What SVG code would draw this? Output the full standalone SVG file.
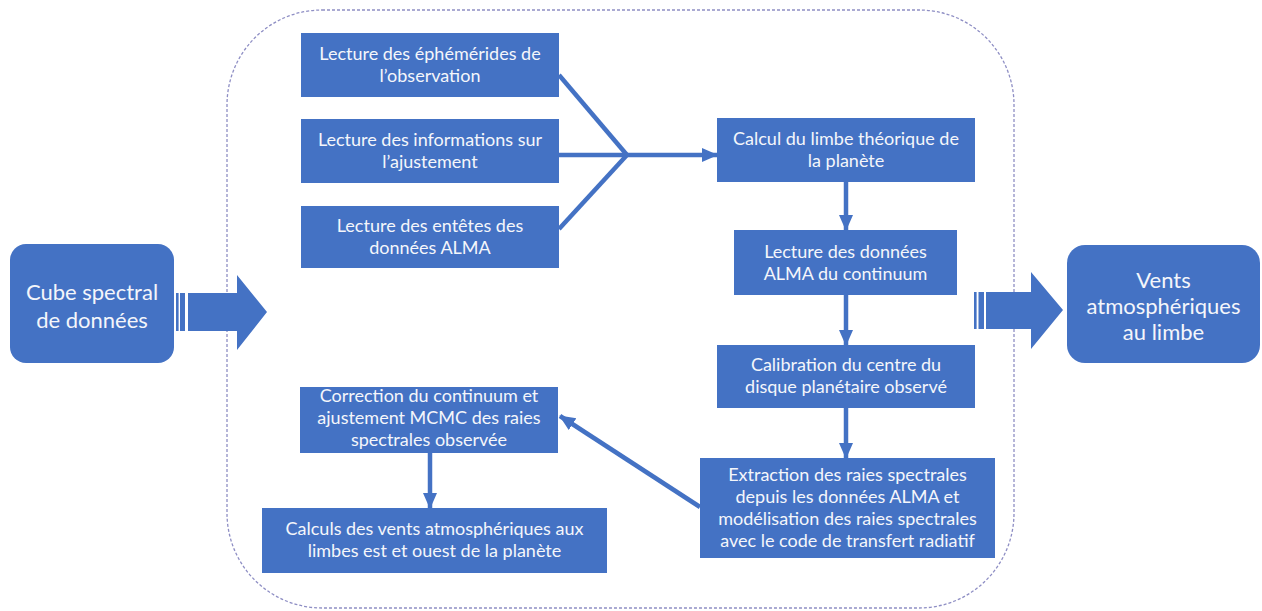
<svg xmlns="http://www.w3.org/2000/svg" width="1262" height="611" viewBox="0 0 1262 611">
<style>
.box{fill:#4472C4;}
.t{font-family:Lato,"Liberation Sans",sans-serif;font-size:18px;fill:#F4F6FB;text-anchor:middle;}
.big{font-family:Lato,"Liberation Sans",sans-serif;font-size:22px;fill:#F4F6FB;text-anchor:middle;}
.ln{stroke:#4472C4;stroke-width:4.5;fill:none;}
.arr{stroke:#4472C4;stroke-width:4.5;fill:none;marker-end:url(#ah);}
.blk{fill:#4472C4;}
</style>
<defs>
<marker id="ah" markerUnits="userSpaceOnUse" markerWidth="16" markerHeight="16" viewBox="0 0 16 16" refX="15" refY="8" orient="auto">
<path d="M0,1 L16,8 L0,15 z" fill="#4472C4"/>
</marker>
</defs>
<rect x="0" y="0" width="1262" height="611" fill="#FFFFFF"/>
<rect id="container" x="227" y="10" width="787" height="598" rx="95" ry="95" fill="none" stroke="#8E8EC4" stroke-width="1.3" stroke-dasharray="3 2"/>

<g id="connectors">
<line class="ln" x1="559" y1="75" x2="627" y2="155"/>
<line class="ln" x1="559" y1="155" x2="627" y2="155"/>
<line class="ln" x1="559" y1="229" x2="627" y2="155"/>
<line class="arr" x1="625" y1="155" x2="717" y2="155"/>
<line class="arr" x1="846" y1="182" x2="846" y2="230"/>
<line class="arr" x1="846" y1="295" x2="846" y2="345"/>
<line class="arr" x1="846" y1="408" x2="846" y2="458"/>
<line class="arr" x1="700" y1="507" x2="560" y2="416"/>
<line class="arr" x1="430" y1="453" x2="430" y2="508"/>
<g id="arrow-in">
<rect class="blk" x="176" y="293" width="2.6" height="38"/>
<rect class="blk" x="180" y="293" width="5" height="38"/>
<polygon class="blk" points="188,293 237,293 237,275 267,312 237,350 237,331 188,331"/>
</g>
<g id="arrow-out">
<rect class="blk" x="974" y="292" width="2.6" height="37"/>
<rect class="blk" x="978.5" y="292" width="5.5" height="37"/>
<polygon class="blk" points="986,292 1031,292 1031,272 1063,310 1031,349 1031,329 986,329"/>
</g>
</g>

<g id="cube">
<rect class="box" x="10" y="244" width="164" height="119" rx="16"/>
<text class="big" x="92" y="300">Cube spectral</text>
<text class="big" x="92" y="328">de données</text>
</g>
<g id="vents">
<rect class="box" x="1067" y="245" width="193" height="118" rx="18"/>
<text class="big" x="1163.5" y="288">Vents</text>
<text class="big" x="1163.5" y="314">atmosphériques</text>
<text class="big" x="1163.5" y="340">au limbe</text>
</g>
<g id="ephemerides">
<rect class="box" x="301" y="33" width="258" height="64"/>
<text class="t" x="430" y="60">Lecture des éphémérides de</text>
<text class="t" x="430" y="82">l’observation</text>
</g>
<g id="ajustement">
<rect class="box" x="301" y="119" width="258" height="64"/>
<text class="t" x="430" y="146">Lecture des informations sur</text>
<text class="t" x="430" y="168">l’ajustement</text>
</g>
<g id="entetes">
<rect class="box" x="301" y="206" width="258" height="62"/>
<text class="t" x="430" y="232">Lecture des entêtes des</text>
<text class="t" x="430" y="254">données ALMA</text>
</g>
<g id="limbe">
<rect class="box" x="717" y="118" width="258" height="64"/>
<text class="t" x="846" y="145">Calcul du limbe théorique de</text>
<text class="t" x="846" y="167">la planète</text>
</g>
<g id="continuum">
<rect class="box" x="734" y="230" width="223" height="65"/>
<text class="t" x="845.5" y="258">Lecture des données</text>
<text class="t" x="845.5" y="280">ALMA du continuum</text>
</g>
<g id="calibration">
<rect class="box" x="717" y="345" width="258" height="63"/>
<text class="t" x="846" y="371">Calibration du centre du</text>
<text class="t" x="846" y="393">disque planétaire observé</text>
</g>
<g id="extraction">
<rect class="box" x="700" y="458" width="295" height="100"/>
<text class="t" x="847.5" y="481">Extraction des raies spectrales</text>
<text class="t" x="847.5" y="503">depuis les données ALMA et</text>
<text class="t" x="847.5" y="525">modélisation des raies spectrales</text>
<text class="t" x="847.5" y="547">avec le code de transfert radiatif</text>
</g>
<g id="correction">
<rect class="box" x="300" y="387" width="258" height="66"/>
<text class="t" x="429" y="402">Correction du continuum et</text>
<text class="t" x="429" y="424">ajustement MCMC des raies</text>
<text class="t" x="429" y="446">spectrales observée</text>
</g>
<g id="vents-calc">
<rect class="box" x="262" y="508" width="345" height="65"/>
<text class="t" x="434.5" y="535">Calculs des vents atmosphériques aux</text>
<text class="t" x="434.5" y="557">limbes est et ouest de la planète</text>
</g>
</svg>
